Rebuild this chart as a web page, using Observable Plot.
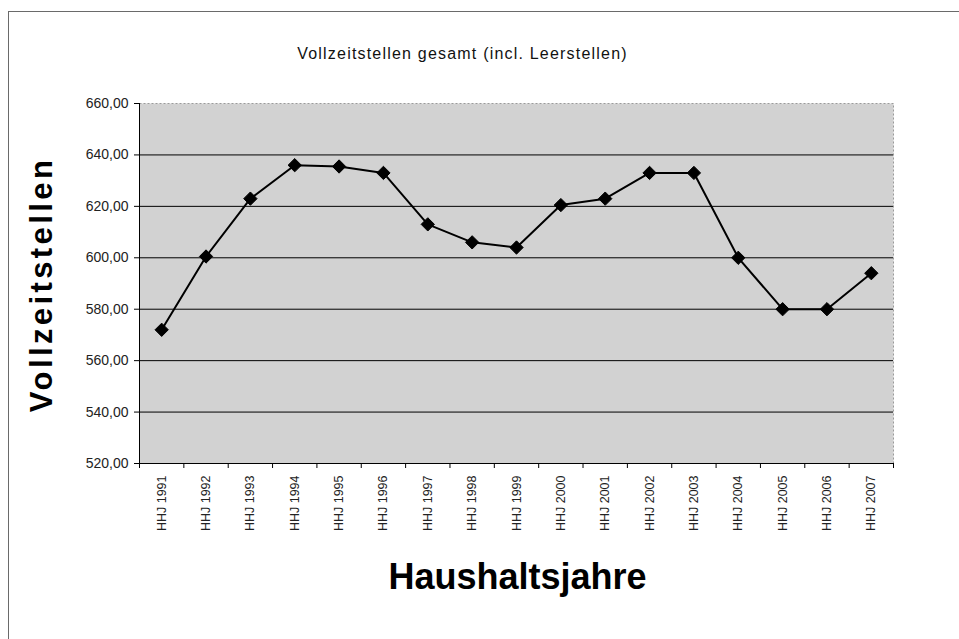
<!DOCTYPE html>
<html>
<head>
<meta charset="utf-8">
<script src="https://cdn.jsdelivr.net/npm/d3@7"></script>
<script src="https://cdn.jsdelivr.net/npm/@observablehq/plot@0.6"></script>
<style>
  html, body { margin: 0; padding: 0; background: #fff; }
  #wrap { position: relative; width: 959px; height: 639px; overflow: hidden; }
  #border { position: absolute; left: 8px; top: 11px; width: 960px; height: 640px;
            border-top: 1px solid #6a6a6a; border-left: 1px solid #6a6a6a; }
  #chart { position: absolute; left: 0; top: 0; }
</style>
</head>
<body>
<div id="wrap"><div id="border"></div><div id="chart"></div></div>
<script>
const years = ["HHJ 1991","HHJ 1992","HHJ 1993","HHJ 1994","HHJ 1995","HHJ 1996","HHJ 1997","HHJ 1998","HHJ 1999","HHJ 2000","HHJ 2001","HHJ 2002","HHJ 2003","HHJ 2004","HHJ 2005","HHJ 2006","HHJ 2007"];
const values = [572, 600.5, 623, 636, 635.5, 633, 613, 606, 604, 620.5, 623, 633, 633, 600, 580, 580, 594];
const yTicks = [520, 540, 560, 580, 600, 620, 640, 660];
const gridTicks = [540, 560, 580, 600, 620, 640];
const title = "Vollzeitstellen gesamt (incl. Leerstellen)";
const yTitle = "Vollzeitstellen";
const xTitle = "Haushaltsjahre";

const data = years.map((y, i) => ({i, year: y, value: values[i]}));
const idx = years.map((_, i) => i);
const bounds = years.map((_, i) => i - 0.5).concat([years.length - 0.5]);
const fmt = d => d.toFixed(2).replace(".", ",");
const font = "'Liberation Sans', Arial, sans-serif";

const chart = Plot.plot({
  width: 959,
  height: 639,
  marginTop: 103,
  marginLeft: 139,
  marginRight: 66,
  marginBottom: 176,
  style: {fontFamily: font, color: "#000", background: "transparent"},
  x: {type: "linear", domain: [-0.5, years.length - 0.5], axis: null},
  y: {domain: [520, 660], axis: null},
  marks: [
    Plot.frame({fill: "#d2d2d2", stroke: "#9a9a9a", strokeDasharray: "2,2"}),
    Plot.gridY(gridTicks, {stroke: "#000", strokeOpacity: 1, strokeWidth: 1}),
    Plot.ruleX([-0.5], {stroke: "#000"}),
    Plot.ruleY([520], {stroke: "#000"}),
    Plot.axisY(yTicks, {tickSize: 5, tickPadding: 6, tickFormat: fmt, fontSize: 14, stroke: "#000", fill: "#222", label: null}),
    Plot.axisX(bounds, {tickSize: 5, text: null, stroke: "#000", label: null}),
    Plot.axisX(idx, {tickSize: 0, tickPadding: 12, tickFormat: i => years[i], tickRotate: -90, fontSize: 12.5, fill: "#222", label: null}),
    Plot.line(data, {x: "i", y: "value", stroke: "#000", strokeWidth: 2}),
    Plot.dot(data, {x: "i", y: "value", symbol: "diamond2", r: 6, fill: "#000", stroke: "#000", strokeWidth: 1}),
    Plot.text([title], {frameAnchor: "top", dx: -54, dy: -56, fontSize: 16, fill: "#111"}),
    Plot.text([yTitle], {frameAnchor: "left", textAnchor: "middle", rotate: -90, dx: -97, dy: 1, fontSize: 31, fontWeight: "bold", fill: "#000"}),
    Plot.text([xTitle], {frameAnchor: "bottom", dx: 1, dy: 125, fontSize: 36, fontWeight: "bold", fill: "#000"})
  ]
});
const textGroups = chart.querySelectorAll('g[aria-label="text"]');
const spacing = ["1.2px", "3.4px", "0px"];
textGroups.forEach((g, k) => {
  g.querySelectorAll("text").forEach(t => t.style.letterSpacing = spacing[k] || "0px");
});
document.getElementById("chart").appendChild(chart);
</script>
</body>
</html>
